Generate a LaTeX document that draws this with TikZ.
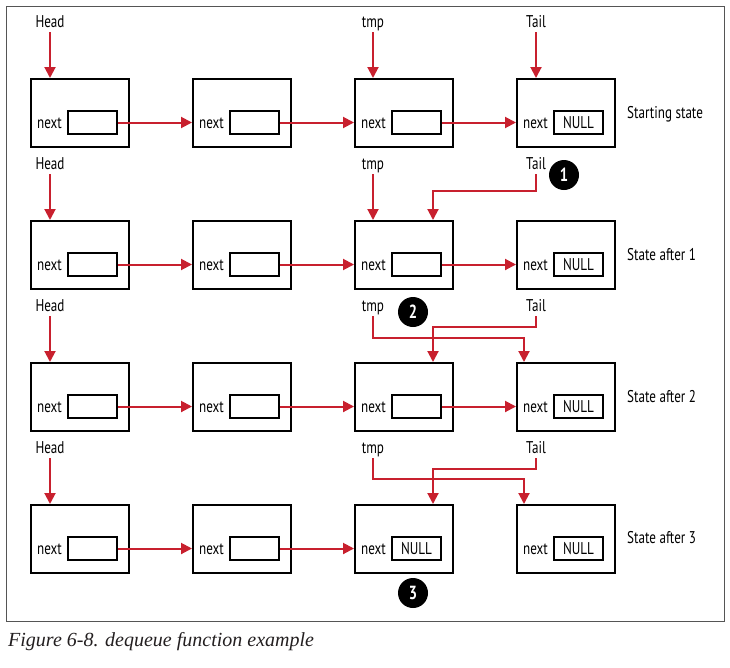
\documentclass[tikz,border=0pt]{standalone}
\usepackage{fontspec}
\setmainfont{Liberation Serif}
\setsansfont{PT Sans}[FakeStretch=0.77]
\usetikzlibrary{arrows.meta,calc}
\definecolor{ptrred}{HTML}{C8202E}
\definecolor{framegray}{HTML}{555555}
\definecolor{captiontext}{HTML}{231F20}
\begin{document}
\begin{tikzpicture}[x=1pt,y=-1pt,
  labelfont/.style={font=\sffamily\fontsize{17}{17}\selectfont},
  cell/.style={draw,line width=2pt,minimum width=98pt,minimum height=68pt,inner sep=0pt},
  field/.style={draw,line width=1.8pt,minimum width=49pt,minimum height=23pt,inner sep=0pt,
    labelfont,text height=12pt,text depth=1pt},
  lbl/.style={labelfont,inner sep=0pt,text height=12pt,text depth=1pt},
  ptr/.style={draw=ptrred,line width=2pt,-{Triangle[length=11pt,width=11pt]}},
  badge/.style={circle,fill=black,minimum size=30pt,inner sep=0pt,text=white,
    font=\sffamily\bfseries\fontsize{19}{19}\selectfont}
]
\useasboundingbox (0,0) rectangle (730,667);
\draw[line width=1pt,draw=framegray] (6,6) rectangle (724,621);

% list nodes: outer cell, next field and its label
\foreach \r/\top in {1/79,2/221,3/363,4/505}{
  \foreach \c/\lft in {1/31,2/193,3/355,4/517}{
    \node[cell] (b-\r-\c) at (\lft+49,\top+34) {};
    \node[field] (f-\r-\c) at (\lft+61.5,\top+43.5) {};
    \node[lbl,anchor=east] (n-\r-\c) at ([xshift=-5pt]f-\r-\c.west) {next};
  }
  % pointer variable names
  \node[lbl] (head-\r) at (50,\top-57) {Head};
  \node[lbl] (tmp-\r) at (373,\top-57) {tmp};
  \node[lbl] (tail-\r) at (536,\top-57) {Tail};
}

% NULL next pointers
\foreach \r/\c in {1/4,2/4,3/4,4/4,4/3}{
  \node[lbl] (null-\r-\c) at (f-\r-\c.center) {NULL};
}

% next links
\foreach \r/\c/\n in {1/1/2,1/2/3,1/3/4,2/1/2,2/2/3,2/3/4,3/1/2,3/2/3,3/3/4,4/1/2,4/2/3}{
  \draw[ptr] (f-\r-\c.east) -- (b-\r-\n.west |- f-\r-\c.east);
}

% Head pointers
\foreach \r in {1,2,3,4}{
  \draw[ptr] ($(head-\r.center)+(0,10)$) -- (head-\r.center |- b-\r-1.north);
}

% starting state
\draw[ptr] ($(tmp-1.center)+(0,10)$) -- (tmp-1.center |- b-1-3.north);
\draw[ptr] ($(tail-1.center)+(0,10)$) -- (tail-1.center |- b-1-4.north);

% after step 1
\draw[ptr] ($(tmp-2.center)+(0,10)$) -- (tmp-2.center |- b-2-3.north);
\draw[ptr] ($(tail-2.center)+(0,10)$) -- ++(0,17) -| ([xshift=79pt]b-2-3.north west);

% after step 2
\draw[ptr] ($(tail-3.center)+(0,10)$) -- ++(0,11) -| ([xshift=79pt]b-3-3.north west);
\draw[ptr] ($(tmp-3.center)+(0,10)$) -- ++(0,22) -| ([xshift=8pt]b-3-4.north west);

% after step 3
\draw[ptr] ($(tail-4.center)+(0,10)$) -- ++(0,11) -| ([xshift=79pt]b-4-3.north west);
\draw[ptr] ($(tmp-4.center)+(0,10)$) -- ++(0,21) -| ([xshift=8pt]b-4-4.north west);

% step markers
\node[badge] (m1) at (564,175) {1};
\node[badge] (m2) at (413,312) {2};
\node[badge] (m3) at (413,593) {3};

% state names
\node[lbl,anchor=west] (s1) at (627,113) {Starting state};
\node[lbl,anchor=west] (s2) at (627,255) {State after 1};
\node[lbl,anchor=west] (s3) at (627,397) {State after 2};
\node[lbl,anchor=west] (s4) at (627,538) {State after 3};

% caption
\node[anchor=base west,inner sep=0pt,text=captiontext,
  font=\rmfamily\itshape\fontsize{20}{20}\selectfont] (cap) at (8,646)
  {Figure 6-8. dequeue function example};
\end{tikzpicture}
\end{document}
